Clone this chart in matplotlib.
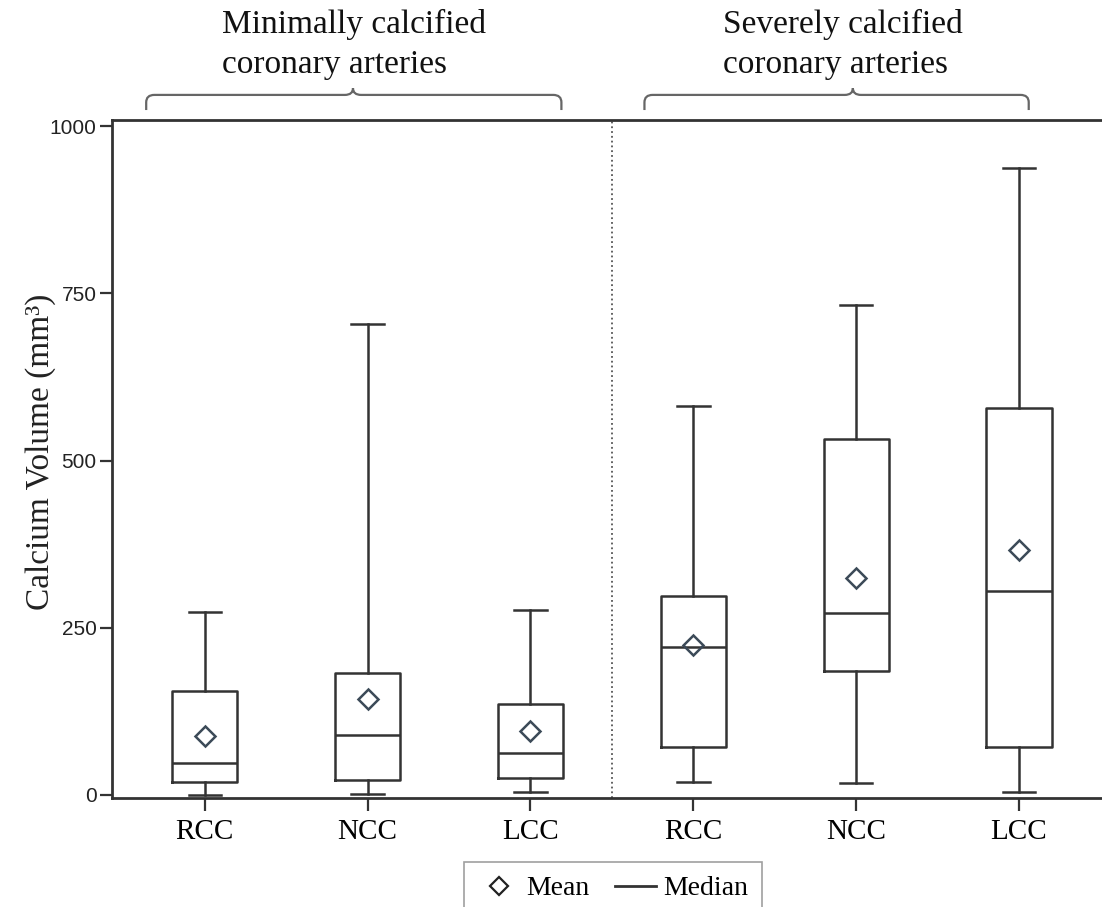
import numpy as np
import matplotlib
matplotlib.use("Agg")
import matplotlib.pyplot as plt
from matplotlib.path import Path
from matplotlib.patches import PathPatch
from matplotlib.lines import Line2D
import matplotlib.transforms as mtransforms

# Box statistics (mm^3)
categories = ['RCC', 'NCC', 'LCC', 'RCC', 'NCC', 'LCC']
whis_lo = [0, 1, 5, 20, 18, 4]
q1 = [19, 23, 25, 72, 186, 71]
median = [48, 89, 63, 221, 272, 305]
q3 = [156, 182, 136, 298, 532, 578]
whis_hi = [274, 704, 277, 582, 733, 937]
means = [88, 144, 96, 224, 325, 366]

groups = ['Minimally calcified\ncoronary arteries',
          'Severely calcified\ncoronary arteries']
yticks = [0, 250, 500, 750, 1000]

SERIF = ['Liberation Serif', 'DejaVu Serif']
SANS = ['Liberation Sans', 'DejaVu Sans']
DARK = '#333333'

W, H = 1102, 907
fig = plt.figure(figsize=(W / 100, H / 100), dpi=100)
ax = fig.add_axes([112 / W, 1 - 798 / H, 1 - 112 / W, (798 - 120) / H])

pos = np.arange(1, len(categories) + 1)
stats = []
for i in range(len(categories)):
    stats.append(dict(whislo=whis_lo[i], q1=q1[i], med=median[i], q3=q3[i],
                      whishi=whis_hi[i], mean=means[i], fliers=[]))

lp = dict(color=DARK, linewidth=1.8)
ax.bxp(stats, positions=pos, widths=0.4, showmeans=True, showfliers=False,
       boxprops=lp, whiskerprops=lp, capprops=lp, medianprops=lp,
       meanprops=dict(marker='D', markersize=10, markerfacecolor='none',
                      markeredgecolor='#3c4a58', markeredgewidth=1.8),
       capwidths=0.2)

# dotted separator between the two groups
ax.axvline(3.5, color='#555555', linestyle=':', linewidth=1.3)

ax.set_xlim(0.43, 6.51)
ax.set_ylim(-4.5, 1009)
ax.set_xticks(pos)
ax.set_xticklabels(categories, fontsize=21, family=SERIF)
ax.set_yticks(yticks)
ax.set_yticklabels([str(v) for v in yticks], fontsize=15, family=SANS, color='#222222')
ax.tick_params(axis='both', direction='out', length=9, width=1.6, color=DARK)
ax.tick_params(axis='x', pad=6)
ax.tick_params(axis='y', pad=2)
for s in ['left', 'bottom', 'top']:
    ax.spines[s].set_linewidth(2.0)
    ax.spines[s].set_color(DARK)
ax.spines['right'].set_visible(False)

fig.text(41 / W, 1 - 452 / H, 'Calcium Volume (mm³)', rotation=90,
         ha='center', va='center', fontsize=24, family=SERIF, color='#222222')

# group braces above the plot
trans = mtransforms.blended_transform_factory(ax.transData, ax.transAxes)
y_end, y_bar, y_peak = 1.0147, 1.037, 1.047
dx, dy = 0.05, 0.011
spans = [(0.64, 3.19, 1.91), (3.70, 6.06, 4.98)]
for x0, x1, xc in spans:
    verts = [(x0, y_end), (x0, y_bar - dy),
             (x0, y_bar), (x0 + dx, y_bar),
             (xc - dx, y_bar),
             (xc, y_bar), (xc, y_peak),
             (xc, y_bar), (xc + dx, y_bar),
             (x1 - dx, y_bar),
             (x1, y_bar), (x1, y_bar - dy),
             (x1, y_end)]
    codes = [Path.MOVETO, Path.LINETO,
             Path.CURVE3, Path.CURVE3,
             Path.LINETO,
             Path.CURVE3, Path.CURVE3,
             Path.CURVE3, Path.CURVE3,
             Path.LINETO,
             Path.CURVE3, Path.CURVE3,
             Path.LINETO]
    patch = PathPatch(Path(verts, codes), transform=trans, facecolor='none',
                      edgecolor='#666666', linewidth=1.6, clip_on=False)
    ax.add_patch(patch)

fig.text(222 / W, 1 - 9 / H, groups[0], ha='left', va='top', fontsize=24,
         family=SERIF, linespacing=1.42, color='#111111')
fig.text(723 / W, 1 - 9 / H, groups[1], ha='left', va='top', fontsize=24,
         family=SERIF, linespacing=1.42, color='#111111')

handles = [Line2D([], [], marker='D', markersize=9, markerfacecolor='none',
                  markeredgecolor='#222222', markeredgewidth=1.6, linestyle='none'),
           Line2D([], [], color=DARK, linewidth=2)]
leg = fig.legend(handles, ['Mean', 'Median'], loc='upper center',
                 bbox_to_anchor=(613 / W, 1 - 862 / H), ncol=2, frameon=True,
                 fancybox=False, prop=dict(family=SERIF, size=20),
                 handlelength=1.5, handletextpad=0.25, columnspacing=0.9,
                 borderpad=0.5, borderaxespad=0)
leg.get_frame().set_edgecolor('#888888')
leg.get_frame().set_linewidth(1.2)

fig.savefig('out.png', dpi=100)
